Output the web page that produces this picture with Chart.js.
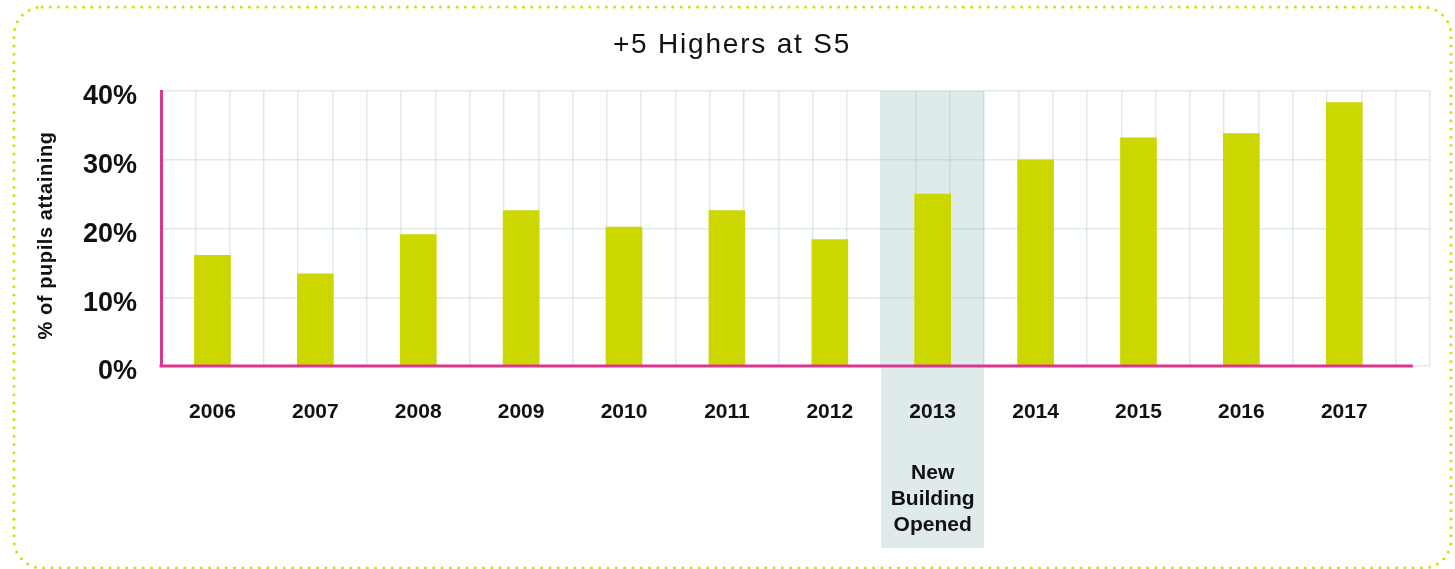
<!DOCTYPE html>
<html>
<head>
<meta charset="utf-8">
<script src="https://cdn.jsdelivr.net/npm/chart.js@4/dist/chart.umd.min.js"></script>
<style>
  html, body { margin: 0; padding: 0; background: #ffffff; overflow: hidden; }
  #wrap { width: 1455px; height: 569px; position: relative; }
</style>
</head>
<body>
<div id="wrap"><canvas id="chart" width="1455" height="569"></canvas></div>
<script>
// ---- data ----
const chartTitle = '+5 Highers at S5';
const yAxisTitle = '% of pupils attaining';
const years = ['2006', '2007', '2008', '2009', '2010', '2011', '2012', '2013', '2014', '2015', '2016', '2017'];
const attainment = [16.1, 13.4, 19.1, 22.6, 20.2, 22.6, 18.4, 25.0, 30.0, 33.2, 33.8, 38.3];
const yLabelledTicks = [0, 10, 20, 30, 40];
const highlightYear = '2013';
const highlightNote = ['New', 'Building', 'Opened'];

// ---- styling ----
const FONT = '"Liberation Sans", Arial, Helvetica, sans-serif';
const BAR_COLOR = '#ccd600';
const AXIS_PINK = '#d8368f';
const GRID_COLOR = 'rgba(150,190,190,0.3)';
const BAND_COLOR = '#dfeaea';
const FRAME_COLOR = '#d3df00';
const TEXT_COLOR = '#111111';

// grid cells: three per year column, plus one spare cell on the right
const cellsPerYear = 3;
const xMin = -0.5;
const xMax = years.length - 0.5 + 1 / cellsPerYear;
const axisLineEnd = years.length - 0.5 + 1 / (2 * cellsPerYear);

const gridPositions = [];
for (let j = 0; j <= (years.length + 1 / cellsPerYear) * cellsPerYear + 1e-9; j++) {
  gridPositions.push(xMin + j / cellsPerYear);
}
const yearPositions = years.map((_, i) => i);

// dotted rounded frame, highlight band, axis line and free-standing texts
const decorPlugin = {
  id: 'decor',
  beforeDraw(chart) {
    const { ctx, chartArea, scales } = chart;
    ctx.save();
    ctx.strokeStyle = FRAME_COLOR;
    ctx.lineWidth = 3;
    ctx.lineCap = 'round';
    ctx.setLineDash([0, 8.3]);
    ctx.beginPath();
    ctx.roundRect(14, 7, 1437, 561, 28);
    ctx.stroke();
    ctx.setLineDash([]);
    // highlight band for the year the new building opened
    const idx = years.indexOf(highlightYear);
    const x0 = scales.x.getPixelForValue(idx - 0.5);
    const x1 = scales.x.getPixelForValue(idx + 0.5);
    ctx.fillStyle = BAND_COLOR;
    ctx.fillRect(x0, chartArea.top, x1 - x0, 548 - chartArea.top);
    ctx.restore();
  },
  afterDatasetsDraw(chart) {
    const { ctx, chartArea, scales } = chart;
    const y0 = scales.y.getPixelForValue(0);
    ctx.save();
    ctx.strokeStyle = AXIS_PINK;
    ctx.lineWidth = 3;
    ctx.beginPath();
    ctx.moveTo(chartArea.left - 1.5, y0);
    ctx.lineTo(scales.x.getPixelForValue(axisLineEnd), y0);
    ctx.stroke();
    ctx.restore();
  },
  afterDraw(chart) {
    const { ctx, chartArea, scales } = chart;
    ctx.save();
    ctx.fillStyle = TEXT_COLOR;
    ctx.textAlign = 'center';
    ctx.textBaseline = 'middle';
    // chart title
    ctx.font = '28px ' + FONT;
    ctx.letterSpacing = '1.8px';
    ctx.fillText(chartTitle, 732, 45);
    // y axis title, reading upwards
    ctx.font = 'bold 20px ' + FONT;
    ctx.letterSpacing = '0.6px';
    ctx.save();
    ctx.translate(46, (chartArea.top + chartArea.bottom) / 2 + 7);
    ctx.rotate(-Math.PI / 2);
    ctx.fillText(yAxisTitle, 0, 0);
    ctx.restore();
    ctx.letterSpacing = '0px';
    // note under the highlighted year
    const cx = scales.x.getPixelForValue(years.indexOf(highlightYear));
    ctx.font = 'bold 21px ' + FONT;
    highlightNote.forEach((line, i) => ctx.fillText(line, cx, 473 + i * 26));
    ctx.restore();
  }
};

new Chart(document.getElementById('chart'), {
  type: 'bar',
  data: {
    datasets: [{
      data: attainment.map((v, i) => ({ x: i, y: v })),
      backgroundColor: BAR_COLOR,
      borderWidth: 0,
      barThickness: 36
    }]
  },
  options: {
    responsive: false,
    animation: false,
    devicePixelRatio: 1,
    layout: { padding: { top: 91, right: 25, left: 0, bottom: 0 } },
    plugins: {
      legend: { display: false },
      tooltip: { enabled: false },
      title: { display: false }
    },
    scales: {
      x: {
        type: 'linear',
        min: xMin,
        max: xMax,
        offset: false,
        bounds: 'data',
        afterBuildTicks(axis) {
          axis.ticks = [...gridPositions, ...yearPositions]
            .sort((a, b) => a - b)
            .map(v => ({ value: v }));
        },
        afterFit(axis) {
          axis.height = 203;
          axis.paddingLeft = 0;
          axis.paddingRight = 0;
        },
        grid: {
          offset: false,
          color: (ctx) => (ctx.tick && Number.isInteger(ctx.tick.value)) ? 'rgba(0,0,0,0)' : GRID_COLOR,
          lineWidth: 1.5,
          drawTicks: false
        },
        border: { display: false },
        ticks: {
          autoSkip: false,
          maxRotation: 0,
          padding: 34,
          color: TEXT_COLOR,
          font: { family: FONT, size: 21, weight: 'bold' },
          callback: (value) => Number.isInteger(value) ? years[value] : ''
        }
      },
      y: {
        min: 0,
        max: 40,
        afterFit(axis) { axis.width = 161; },
        grid: { color: GRID_COLOR, lineWidth: 1.5, drawTicks: false },
        border: { display: true, color: AXIS_PINK, width: 3 },
        ticks: {
          stepSize: 5,
          padding: 24,
          labelOffset: 6,
          color: TEXT_COLOR,
          font: { family: FONT, size: 27, weight: 'bold' },
          callback: (value) => yLabelledTicks.includes(value) ? value + '%' : ''
        },
        title: { display: false }
      }
    }
  },
  plugins: [decorPlugin]
});
</script>
</body>
</html>
